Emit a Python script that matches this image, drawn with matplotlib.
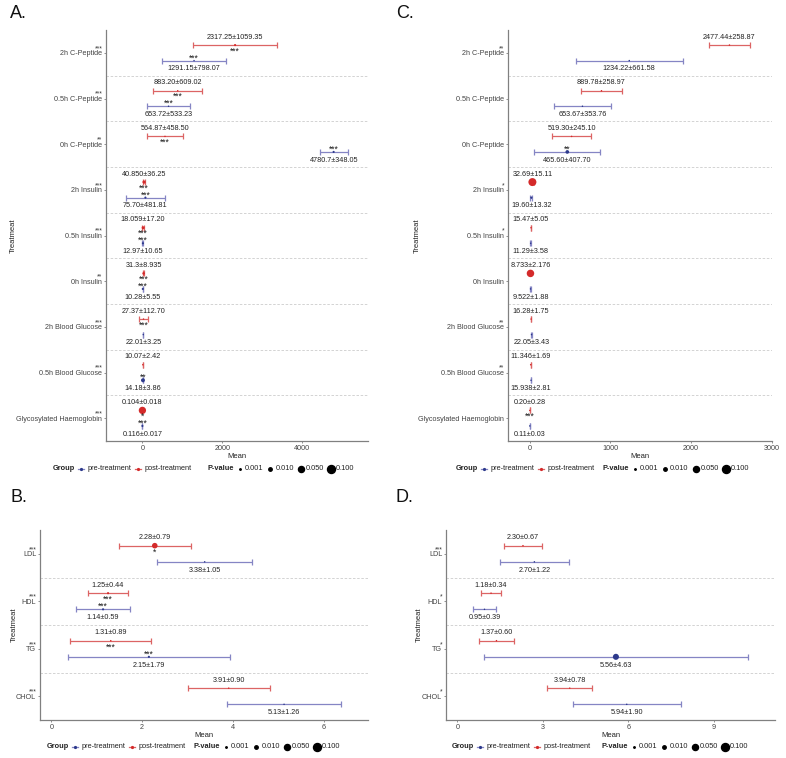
import numpy as np
import matplotlib.pyplot as plt
from matplotlib.lines import Line2D

plt.rcParams['font.family'] = ['Liberation Sans', 'DejaVu Sans']

# ---------------- data ----------------
glu_cats = ['2h C-Peptide', '0.5h C-Peptide', '0h C-Peptide', '2h Insulin', '0.5h Insulin',
            '0h Insulin', '2h Blood Glucose', '0.5h Blood Glucose', 'Glycosylated Haemoglobin']
lip_cats = ['LDL', 'HDL', 'TG', 'CHOL']

# panel A
a_post = ['2317.25±1059.35', '883.20±609.02', '564.87±458.50', '40.850±36.25', '18.059±17.20',
          '31.3±8.935', '27.37±112.70', '10.07±2.42', '0.104±0.018']
a_pre = ['1291.15±798.07', '653.72±533.23', '4780.7±348.05', '75.70±481.81', '12.97±10.65',
         '10.28±5.55', '22.01±3.25', '14.18±3.86', '0.116±0.017']
a_post_p = [0.002, 0.001, 0.001, 0.008, 0.006, 0.004, 0.001, 0.001, 0.08]
a_pre_p = [0.001, 0.001, 0.002, 0.002, 0.002, 0.002, 0.001, 0.015, 0.002]
a_post_sig = ['***', '***', '***', '***', '***', '***', '***', '', '*']
a_pre_sig = ['***', '***', '***', '***', '***', '***', '', '**', '***']
a_cat_sig = ['***', '***', '**', '***', '***', '**', '***', '***', '***']

# panel C
c_post = ['2477.44±258.87', '889.78±258.97', '519.30±245.10', '32.69±15.11', '15.47±5.05',
          '8.733±2.176', '16.28±1.75', '11.346±1.69', '0.20±0.28']
c_pre = ['1234.22±661.58', '653.67±353.76', '465.60±407.70', '19.60±13.32', '11.29±3.58',
         '9.522±1.88', '22.05±3.43', '15.938±2.81', '0.11±0.03']
c_post_p = [0.001, 0.001, 0.001, 0.1, 0.001, 0.085, 0.001, 0.001, 0.001]
c_pre_p = [0.001, 0.001, 0.012, 0.002, 0.001, 0.001, 0.001, 0.001, 0.001]
c_post_sig = ['', '', '', '', '', '', '', '', '***']
c_pre_sig = ['', '', '**', '', '', '', '', '', '']
c_cat_sig = ['**', '', '', '*', '*', '', '**', '**', '']

# panel B
b_post = ['2.28±0.79', '1.25±0.44', '1.31±0.89', '3.91±0.90']
b_pre = ['3.38±1.05', '1.14±0.59', '2.15±1.79', '5.13±1.26']
b_post_p = [0.04, 0.002, 0.001, 0.001]
b_pre_p = [0.001, 0.002, 0.002, 0.001]
b_post_sig = ['*', '***', '***', '']
b_pre_sig = ['', '***', '***', '']
b_cat_sig = ['***', '***', '***', '***']

# panel D
d_post = ['2.30±0.67', '1.18±0.34', '1.37±0.60', '3.94±0.78']
d_pre = ['2.70±1.22', '0.95±0.39', '5.56±4.63', '5.94±1.90']
d_post_p = [0.001, 0.001, 0.001, 0.001]
d_pre_p = [0.001, 0.001, 0.05, 0.001]
d_post_sig = ['', '', '', '']
d_pre_sig = ['', '', '', '']
d_cat_sig = ['***', '*', '*', '*']

legend_p = [0.001, 0.010, 0.050, 0.100]

RED_BAR, RED_PT = '#dc6464', '#d42a2a'
BLUE_BAR, BLUE_PT = '#8585c4', '#2d3a8c'
W, H = 786, 758


def psize(p):
    p = np.clip(np.asarray(p, dtype=float), 0.001, 0.1)
    d_px = 1.5 + 6.5 * np.sqrt((p - 0.001) / 0.099)
    return (d_px * 0.72) ** 2


def split(labels):
    m = np.array([float(s.split('±')[0]) for s in labels])
    sd = np.array([float(s.split('±')[1]) for s in labels])
    return m, sd


def draw_panel(ax, cats, post, pre, post_p, pre_p, post_sig, pre_sig, cat_sig, xlim, xticks):
    n = len(cats)
    y = np.arange(n)[::-1].astype(float)
    groups = [(post, post_p, post_sig, 0.17, RED_BAR, RED_PT, 0.17, -0.13),
              (pre, pre_p, pre_sig, -0.17, BLUE_BAR, BLUE_PT, -0.18, 0.06)]
    for labels, pv, sig, off, bc, pc, loff, soff in groups:
        m, sd = split(labels)
        yy = y + off
        ax.errorbar(m, yy, xerr=sd, fmt='none', ecolor=bc, elinewidth=0.9,
                    capsize=2.5, capthick=0.9, zorder=2)
        ax.scatter(m, yy, s=psize(pv), color=pc, linewidths=0, zorder=3)
        for xi, yi, t, s in zip(m, yy, labels, sig):
            ax.text(xi, yi + loff, t, ha='center', va='center', fontsize=5.2, color='#222222')
            if s:
                ax.text(xi, yi + soff, s, ha='center', va='center', fontsize=6.2,
                        color='#1a1a1a')
    for b in np.arange(n - 1) + 0.5:
        ax.axhline(b, color='#cccccc', lw=0.6, ls=(0, (3, 2)), zorder=1)
    ax.set_ylim(-0.5, n - 0.5)
    ax.set_xlim(*xlim)
    ax.set_xticks(xticks)
    ax.set_yticks(y)
    ax.set_yticklabels(cats)
    for yi, s in zip(y, cat_sig):
        if s:
            ax.annotate(s, xy=(0, yi), xycoords=('axes fraction', 'data'), xytext=(-2.6, 3.0),
                        textcoords='offset points', ha='right', va='center', fontsize=4.8,
                        color='#333333')
    for sp in ['top', 'right']:
        ax.spines[sp].set_visible(False)
    for sp in ['left', 'bottom']:
        ax.spines[sp].set_color('#808080')
        ax.spines[sp].set_linewidth(0.9)
    ax.tick_params(axis='both', length=1.5, width=0.6, color='#808080', pad=1.2,
                   labelsize=5.2, labelcolor='#444444')
    ax.set_xlabel('Mean', fontsize=5.5, labelpad=1.0, color='#222222')
    ax.set_ylabel('Treatmeat', fontsize=5.5, color='#222222')


def draw_legend(fig, x, y, gap):
    r = fig.canvas.get_renderer()
    fy = 1 - y / H

    def put_text(x, s, bold=False):
        t = fig.text(x / W, fy, s, fontsize=5.3, fontweight='bold' if bold else 'normal',
                     ha='left', va='center', color='#222222')
        return x + t.get_window_extent(r).width

    def glyph(x, c_bar, c_pt):
        fig.add_artist(Line2D([(x + 2) / W, (x + 8) / W], [fy, fy], transform=fig.transFigure,
                              color=c_bar, lw=0.9))
        fig.add_artist(Line2D([(x + 5) / W], [fy], transform=fig.transFigure, marker='o',
                              ms=1.3, color=c_pt, lw=0))
        return x + 10

    x = put_text(x, 'Group', True) + 1
    x = glyph(x, BLUE_BAR, BLUE_PT) + 1
    x = put_text(x, 'pre-treatment') + 2
    x = glyph(x, RED_BAR, RED_PT) + 1
    x = put_text(x, 'post-treatment') + gap
    x = put_text(x, 'P-value', True) + 1
    for p in legend_p:
        d = 1.5 + 6.5 * np.sqrt((p - 0.001) / 0.099)
        fig.add_artist(Line2D([(x + 5) / W], [fy], transform=fig.transFigure, marker='o',
                              ms=d * 0.72, color='black', lw=0))
        x = put_text(x + 10, '%.3f' % p) + 2


fig = plt.figure(figsize=(W / 100, H / 100), dpi=100)


def axes_px(l, r, t, b):
    return fig.add_axes([l / W, 1 - b / H, (r - l) / W, (b - t) / H])


axA = axes_px(106, 368, 30, 441)
axC = axes_px(508, 772, 30, 441)
axB = axes_px(40, 368, 530, 720)
axD = axes_px(446, 775, 530, 720)

draw_panel(axA, glu_cats, a_post, a_pre, a_post_p, a_pre_p, a_post_sig, a_pre_sig, a_cat_sig,
           (-910, 5640), [0, 2000, 4000])
draw_panel(axC, glu_cats, c_post, c_pre, c_post_p, c_pre_p, c_post_sig, c_pre_sig, c_cat_sig,
           (-270, 3005), [0, 1000, 2000, 3000])
draw_panel(axB, lip_cats, b_post, b_pre, b_post_p, b_pre_p, b_post_sig, b_pre_sig, b_cat_sig,
           (-0.25, 6.98), [0, 2, 4, 6])
draw_panel(axD, lip_cats, d_post, d_pre, d_post_p, d_pre_p, d_post_sig, d_pre_sig, d_cat_sig,
           (-0.4, 11.14), [0, 3, 6, 9])

axA.yaxis.set_label_coords(-0.34, 0.5)
axC.yaxis.set_label_coords(-0.331, 0.5)
axB.yaxis.set_label_coords(-0.067, 0.5)
axD.yaxis.set_label_coords(-0.07, 0.5)

for lab, x, y in [('A.', 10, 14), ('C.', 396, 14), ('B.', 10, 497), ('D.', 396, 497)]:
    fig.text(x / W, 1 - y / H, lab, fontsize=13, ha='left', va='center', color='#111111')

draw_legend(fig, 53, 469, 16)
draw_legend(fig, 456, 469, 8)
draw_legend(fig, 47, 747, 8)
draw_legend(fig, 452, 747, 11)

fig.savefig('out.png', dpi=100)
